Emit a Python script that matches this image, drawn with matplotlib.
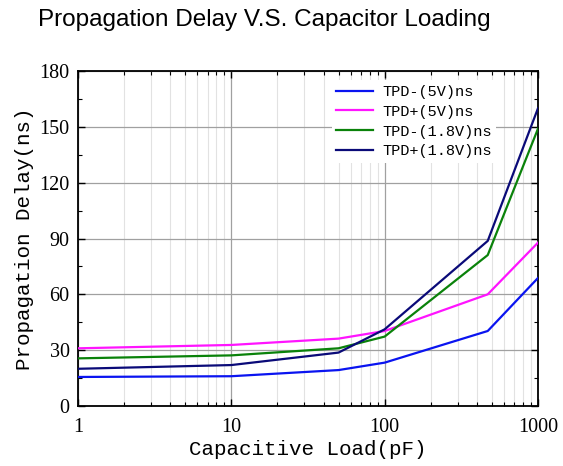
import matplotlib
matplotlib.use("Agg")
import matplotlib.pyplot as plt
from matplotlib.ticker import FixedLocator, NullFormatter, LogLocator

# capacitive load (pF) and delays (ns)
load_pf = [1, 10, 50, 100, 470, 1000]
tpd_minus_5v = [15.6, 16.0, 19.3, 23.3, 40.3, 68.8]
tpd_plus_5v = [31.0, 32.8, 36.2, 40.3, 60.0, 87.8]
tpd_minus_18v = [25.6, 27.2, 31.0, 37.3, 81.1, 149.0]
tpd_plus_18v = [20.0, 22.0, 28.7, 41.2, 88.7, 160.0]

series_labels = ["TPD-(5V)ns", "TPD+(5V)ns", "TPD-(1.8V)ns", "TPD+(1.8V)ns"]
series_colors = ["#0a14f0", "#ff14ff", "#0a820a", "#0a0a78"]
y_ticks = [0, 30, 60, 90, 120, 150, 180]
x_ticks = [1, 10, 100, 1000]

fig = plt.figure(figsize=(5.63, 4.66), dpi=100)
ax = fig.add_axes([78 / 563, 60 / 466, 460 / 563, 335 / 466])

for ys, lab, col in zip([tpd_minus_5v, tpd_plus_5v, tpd_minus_18v, tpd_plus_18v],
                        series_labels, series_colors):
    ax.plot(load_pf, ys, color=col, lw=1.6, label=lab, zorder=3)

ax.set_xscale("log")
ax.set_xlim(1, 1000)
ax.set_ylim(0, 180)
ax.set_xticks(x_ticks)
ax.set_xticklabels([str(t) for t in x_ticks])
ax.xaxis.set_minor_locator(LogLocator(base=10, subs=range(2, 10)))
ax.xaxis.set_minor_formatter(NullFormatter())
ax.set_yticks(y_ticks)
ax.yaxis.set_minor_locator(FixedLocator([15, 45, 75, 105, 135, 165]))

ax.grid(which="major", color="#a0a0a0", lw=0.9)
ax.grid(which="minor", axis="x", color="#e2e2e2", lw=0.8)
ax.set_axisbelow(True)

ax.tick_params(which="both", direction="in", top=True, right=True)
ax.tick_params(which="major", length=5, width=1)
ax.tick_params(which="minor", length=3, width=0.8)
ax.tick_params(axis="x", which="major", pad=9)
ax.tick_params(axis="y", which="major", pad=6)
for lbl in ax.get_xticklabels() + ax.get_yticklabels():
    lbl.set_fontfamily("Liberation Serif")
    lbl.set_fontsize(14.5)
for sp in ax.spines.values():
    sp.set_linewidth(1.3)

ax.set_xlabel("Capacitive Load(pF)", fontfamily="Liberation Mono", fontsize=15, labelpad=2)
ax.set_ylabel("Propagation Delay(ns)", fontfamily="Liberation Mono", fontsize=15, labelpad=4)

leg = ax.legend(loc="upper left", bbox_to_anchor=(0.535, 0.995), frameon=True, fancybox=False,
                prop={"family": "Liberation Mono", "size": 11}, handlelength=2.4,
                handletextpad=0.6, labelspacing=0.38, borderpad=0.3)
leg.get_frame().set_edgecolor("none")
leg.get_frame().set_facecolor("white")
leg.get_frame().set_alpha(1)

fig.text(264 / 563, 1 - 20 / 466, "Propagation Delay V.S. Capacitor Loading",
         ha="center", va="center", fontfamily="Liberation Sans", fontsize=17.5)

fig.savefig("out.png", dpi=100)
